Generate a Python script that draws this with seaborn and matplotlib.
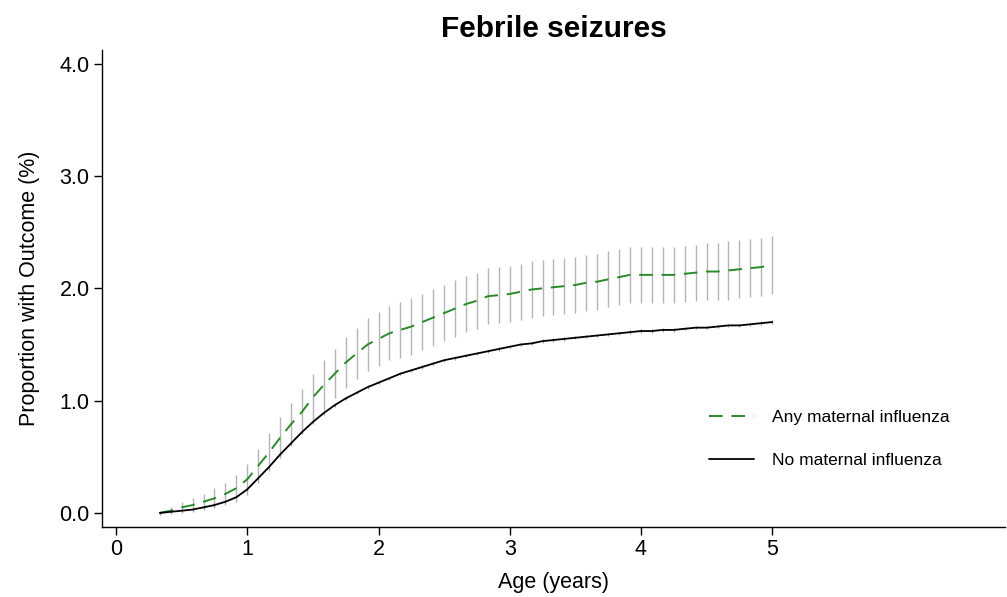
import numpy as np
import pandas as pd
import matplotlib
matplotlib.use("Agg")
import matplotlib.pyplot as plt
import seaborn as sns

# age in months, 4 .. 60
months = list(range(4, 61))

# any maternal influenza: cumulative proportion (%) and CI half width
flu_mean = [0.00, 0.02, 0.05, 0.07, 0.10, 0.13, 0.17, 0.22, 0.30, 0.42,
            0.54, 0.67, 0.79, 0.90, 1.03, 1.14, 1.24, 1.34, 1.42, 1.50,
            1.55, 1.60, 1.63, 1.66, 1.70, 1.74, 1.78, 1.82, 1.86, 1.89,
            1.93, 1.94, 1.95, 1.97, 1.99, 2.00, 2.01, 2.02, 2.03, 2.05,
            2.06, 2.08, 2.10, 2.12, 2.12, 2.12, 2.12, 2.12, 2.13, 2.14,
            2.15, 2.15, 2.16, 2.17, 2.18, 2.19, 2.21]
flu_hw = [0.01, 0.03, 0.05, 0.06, 0.07, 0.09, 0.10, 0.12, 0.14, 0.15,
          0.17, 0.18, 0.19, 0.20, 0.21, 0.22, 0.22, 0.23, 0.23, 0.24,
          0.24, 0.24, 0.25, 0.25, 0.25, 0.25, 0.25, 0.25, 0.25, 0.25,
          0.25, 0.25, 0.25, 0.25, 0.25, 0.25, 0.25, 0.25, 0.25, 0.25,
          0.25, 0.25, 0.25, 0.25, 0.25, 0.25, 0.25, 0.25, 0.25, 0.25,
          0.25, 0.25, 0.26, 0.26, 0.26, 0.26, 0.26]

# no maternal influenza
noflu_mean = [0.00, 0.01, 0.02, 0.03, 0.05, 0.07, 0.10, 0.14, 0.21, 0.31,
              0.41, 0.52, 0.62, 0.72, 0.81, 0.89, 0.96, 1.02, 1.07, 1.12,
              1.16, 1.20, 1.24, 1.27, 1.30, 1.33, 1.36, 1.38, 1.40, 1.42,
              1.44, 1.46, 1.48, 1.50, 1.51, 1.53, 1.54, 1.55, 1.56, 1.57,
              1.58, 1.59, 1.60, 1.61, 1.62, 1.62, 1.63, 1.63, 1.64, 1.65,
              1.65, 1.66, 1.67, 1.67, 1.68, 1.69, 1.70]
noflu_hw = 0.015

df = pd.DataFrame({"age": np.array(months) / 12.0,
                   "flu": flu_mean, "flu_hw": flu_hw, "noflu": noflu_mean})

sns.set_style("ticks")
plt.rcParams["font.family"] = ["Liberation Sans", "DejaVu Sans"]
plt.rcParams["text.color"] = "black"
plt.rcParams["axes.labelcolor"] = "black"

fig = plt.figure(figsize=(10.07, 5.97), dpi=100)
ax = fig.add_axes([0.1013, 0.1173, 0.897, 0.7990])

# confidence bars
ax.vlines(df["age"], df["flu"] - df["flu_hw"], df["flu"] + df["flu_hw"],
          color="#b4b4b4", linewidth=1.0, zorder=1)
ax.vlines(df["age"], df["noflu"] - noflu_hw, df["noflu"] + noflu_hw,
          color="#9a9a9a", linewidth=0.8, zorder=1)

sns.lineplot(data=df, x="age", y="flu", ax=ax, color="#2a8a2a", linewidth=1.4,
             linestyle=(0, (7, 4.5)), label="Any maternal influenza", zorder=3)
sns.lineplot(data=df, x="age", y="noflu", ax=ax, color="black", linewidth=1.3,
             label="No maternal influenza", zorder=3)

ax.set_xlim(-0.107, 6.776)
ax.set_ylim(-0.125, 4.123)
ax.set_xticks([0, 1, 2, 3, 4, 5])
ax.set_yticks([0, 1, 2, 3, 4])
ax.set_yticklabels([f"{v:.1f}" for v in [0, 1, 2, 3, 4]])
ax.tick_params(axis="both", direction="out", length=6, width=1.0,
               labelsize=15.5, colors="black", pad=3)
for s in ["left", "bottom"]:
    ax.spines[s].set_linewidth(1.0)
    ax.spines[s].set_color("black")
sns.despine(ax=ax)

ax.set_xlabel("Age (years)", fontsize=15.5, labelpad=8)
ax.set_ylabel("Proportion with Outcome (%)", fontsize=15.5, labelpad=14)
ax.set_title("Febrile seizures", fontsize=21.5, fontweight="bold", pad=9)

ax.legend(loc="upper left", bbox_to_anchor=(0.655, 0.279), frameon=False,
          fontsize=12.5, handlelength=2.6, handletextpad=1.0, labelspacing=1.6)

fig.savefig("out.png", dpi=100)
